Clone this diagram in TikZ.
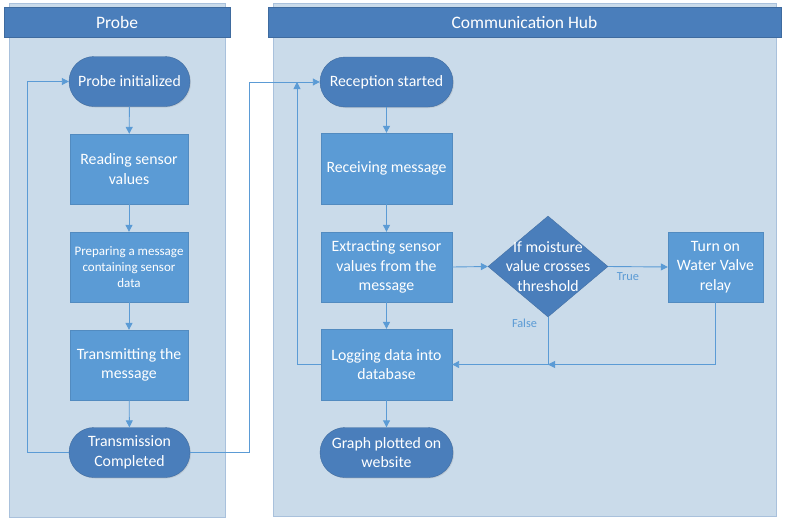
\documentclass[tikz,border=0pt]{standalone}
\usepackage{fontspec}
\setmainfont{Carlito}
\usetikzlibrary{arrows.meta,shapes.geometric,shadows}
\definecolor{lanefill}{HTML}{CADBEA}
\definecolor{laneline}{HTML}{A9C1DC}
\definecolor{headfill}{HTML}{4A7EBB}
\definecolor{termfill}{HTML}{4A7EBB}
\definecolor{boxfill}{HTML}{5B9BD5}
\definecolor{linecol}{HTML}{5B9BD5}
\tikzset{
  lanebody/.style={fill=lanefill,draw=laneline,line width=0.8pt},
  lanehead/.style={rectangle,fill=headfill,draw=headfill!85!black,line width=0.4pt,text=white,inner sep=0pt,font=\fontsize{17.5}{20}\selectfont},
  term/.style={rectangle,rounded corners=25pt,fill=termfill,draw=termfill!85!black,line width=0.4pt,text=white,align=center,minimum width=121pt,minimum height=50pt,inner sep=0pt,font=\fontsize{15.8}{19.5}\selectfont,drop shadow={shadow xshift=1pt,shadow yshift=-1pt,opacity=0.2}},
  procbox/.style={rectangle,fill=boxfill,draw=boxfill!90!black,line width=0.3pt,text=white,align=center,minimum width=118pt,minimum height=70pt,inner sep=0pt,font=\fontsize{15.8}{19.5}\selectfont,drop shadow={shadow xshift=1pt,shadow yshift=-1pt,opacity=0.2}},
  decbox/.style={diamond,fill=termfill,draw=termfill!85!black,line width=0.3pt,minimum width=120pt,minimum height=101pt,inner sep=0pt},
  arr/.style={draw=linecol,line width=0.9pt,-{Triangle[length=7pt,width=7pt]}},
  plain/.style={draw=linecol,line width=0.9pt},
  branch/.style={text=linecol,font=\fontsize{12.3}{14}\selectfont,inner sep=0pt}
}
\begin{document}
\begin{tikzpicture}[x=1pt,y=-1pt]
\useasboundingbox (0,0) rectangle (786,525);
% lanes
\fill[white] (0,0) rectangle (786,525);
\draw[lanebody] (9,3) rectangle (225,517);
\draw[lanebody] (273,3) rectangle (776,516);
\node[lanehead,minimum width=226pt,minimum height=30pt] (hprobe) at (117,22) {Probe};
\node[lanehead,minimum width=513pt,minimum height=30pt] (hhub) at (524.5,22) {Communication Hub};
% probe lane
\node[term] (pi) at (129.5,81.5) {Probe initialized};
\node[procbox] (rs) at (129,169) {Reading sensor\\values};
\node[procbox,font=\fontsize{13}{16}\selectfont] (pm) at (129,267) {Preparing a message\\containing sensor\\data};
\node[procbox] (tm) at (129,365) {Transmitting the\\message};
\node[term] (tc) at (129.5,452.5) {Transmission\\Completed};
% hub lane
\node[term,minimum width=133pt] (rcs) at (386.5,82) {Reception started};
\node[procbox,minimum width=131pt,minimum height=71pt] (rm) at (386.5,168.5) {Receiving message};
\node[procbox,minimum width=131pt] (ex) at (386.5,267) {Extracting sensor\\values from the\\message};
\node[procbox,minimum width=131pt,minimum height=71pt] (lg) at (386.5,364.5) {Logging data into\\database};
\node[term,minimum width=133pt] (gp) at (386.5,452.5) {Graph plotted on\\website};
\node[decbox,label={[text=white,align=center,font=\fontsize{15.8}{19.5}\selectfont]center:If moisture\\value crosses\\threshold}] (dia) at (548,266.5) {};
\node[procbox,minimum width=95pt] (rl) at (715.5,267) {Turn on\\Water Valve\\relay};
% coordinates
\coordinate (jl) at (27,452.5);
\coordinate (jr) at (249,82);
\coordinate (jh) at (297,82);
\coordinate (mrg) at (dia.south |- lg.east);
% probe flow
\draw[arr] (pi) -- (rs);
\draw[arr] (rs) -- (pm);
\draw[arr] (pm) -- (tm);
\draw[arr] (tm) -- (tc);
\draw[arr] (tc.west) -- (jl) |- (pi.west);
\draw[arr] (tc.east) -| (jr) -- (rcs.west);
% hub flow
\draw[arr] (rcs) -- (rm);
\draw[arr] (rm) -- (ex);
\draw[arr] (ex) -- (lg);
\draw[arr] (lg) -- (gp);
\draw[arr] (lg.west) -| (jh);
\draw[arr] (ex.east) -- (dia.west);
\draw[arr] (dia.east) -- node[branch,pos=0.33,below=5pt] (tl) {True} (rl.west);
\draw[plain] (dia.south) -- (mrg);
\node[branch] (fl) at (524.5,323) {False};
\draw[arr] (rl.south) |- (mrg);
\draw[arr] (mrg) -- (lg.east);
\end{tikzpicture}
\end{document}
